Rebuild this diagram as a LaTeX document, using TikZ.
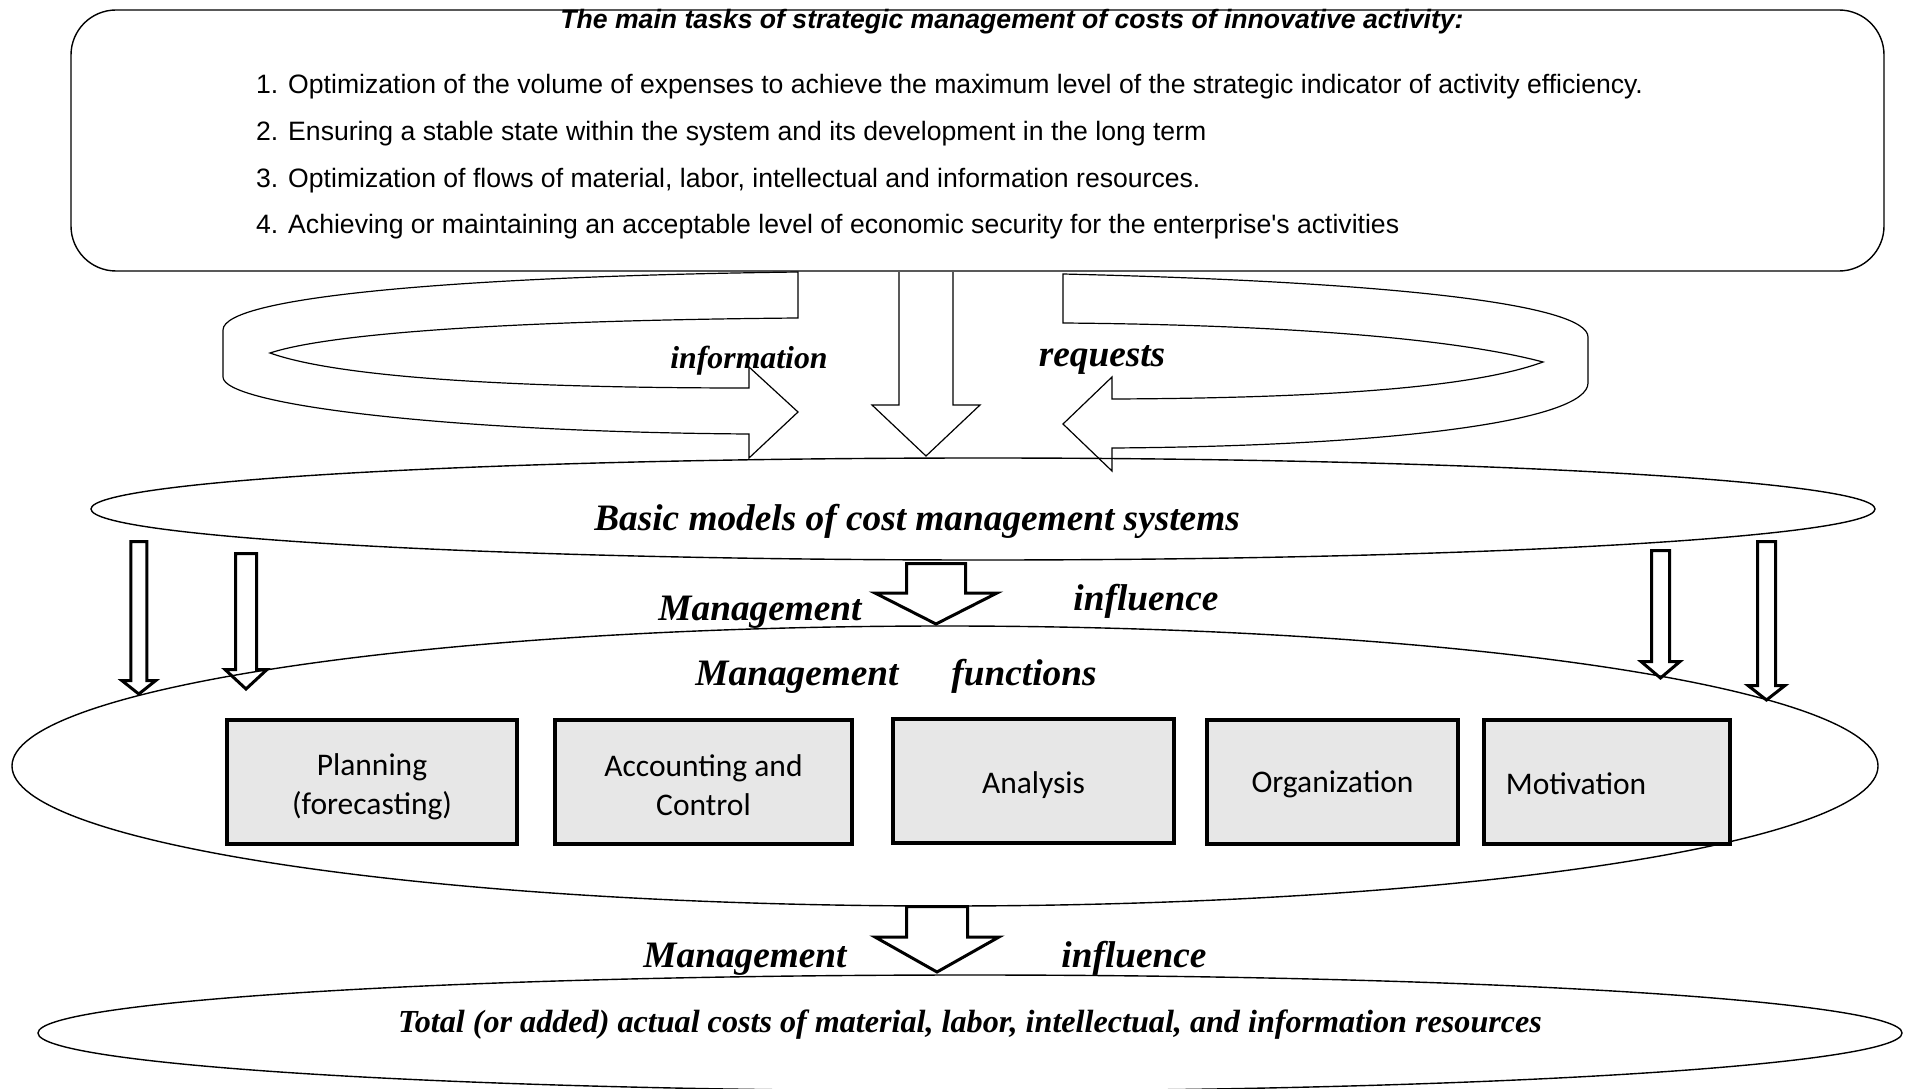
\documentclass[tikz,border=0pt]{standalone}
\usepackage{fontspec}
\setmainfont{Liberation Serif}
\newfontfamily\sansarial[Ligatures=TeXOff]{Liberation Sans}
\newfontfamily\boxfont{Carlito}
\usetikzlibrary{shapes.geometric}
\definecolor{boxgray}{RGB}{231,231,231}
\newcommand\lowered[2]{\raisebox{-#1}[\height][\depth]{#2}}
\begin{document}
\begin{tikzpicture}[x=1pt,y=-1pt,
  outline/.style={draw=black,line width=1.4pt},
  ribbon/.style={draw=black,line width=1.2pt,line join=miter},
  fatarrow/.style={draw=black,line width=3pt,line join=miter},
  oval/.style={ellipse,draw=black,line width=1.4pt,inner sep=0pt},
  funcbox/.style={draw=black,line width=4pt,fill=boxgray,inner sep=0pt,
    minimum height=124pt,align=center,font=\boxfont\fontsize{31.5}{39}\selectfont},
  tasktext/.style={anchor=base west,inner sep=0pt,font=\sansarial\fontsize{26.6}{30}\selectfont},
  bigitalic/.style={anchor=base,inner sep=0pt,font=\bfseries\itshape\fontsize{37.3}{40}\selectfont},
  miditalic/.style={anchor=base,inner sep=0pt,font=\bfseries\itshape\fontsize{31.8}{36}\selectfont},
]
\useasboundingbox (0,0) rectangle (1912,1089);

% ---- tasks box ----
\node[outline,rounded corners=45pt,minimum width=1813pt,minimum height=261pt,inner sep=0pt]
  (tasks) at (977.5,140.5) {};
\node[anchor=base,inner sep=0pt,font=\sansarial\bfseries\itshape\fontsize{26.6}{30}\selectfont]
  (title) at (1012,29) {The main tasks of strategic management of costs of innovative activity:};
\node[tasktext] (t1) at (256,94) {1. Optimization of the volume of expenses to achieve the maximum level of the strategic indicator of activity efficiency.};
\node[tasktext] (t2) at (256,140.5) {2. Ensuring a stable state within the system and its development in the long term};
\node[tasktext] (t3) at (256,187) {3. Optimization of flows of material, labor, intellectual and information resources.};
\node[tasktext] (t4) at (256,233.5) {4. Achieving or maintaining an acceptable level of economic security for the enterprise's activities};

% ---- circular ribbon arrows ----
\draw[ribbon] (798,272) .. controls (480,276) and (223,295) .. (223,330)
  -- (223,377)
  .. controls (223,405) and (450,432) .. (749,434)
  -- (749,458) -- (798,412) -- (749,367) -- (749,388)
  .. controls (520,388) and (340,378) .. (270,353)
  .. controls (340,330) and (560,320) .. (798,318)
  -- cycle;
\draw[ribbon] (1063,274) .. controls (1400,282) and (1588,305) .. (1588,337)
  -- (1588,383)
  .. controls (1588,420) and (1400,446) .. (1112,448)
  -- (1112,471) -- (1063,424) -- (1112,377) -- (1112,399)
  .. controls (1350,398) and (1480,385) .. (1543,362)
  .. controls (1460,340) and (1300,325) .. (1063,323)
  -- cycle;
\draw[ribbon] (899,272) -- (899,405) -- (872,405) -- (926,456) -- (980,405) -- (953,405) -- (953,272);

\node[miditalic] (information) at (749,368.5) {information};
\node[bigitalic] (requests) at (1102,366) {requests};

% ---- basic models ----
\node[oval,minimum width=1784pt,minimum height=102pt] (basic) at (983,509) {};
\node[bigitalic] (basictext) at (917,530) {Basic models of cost management systems};

% ---- management influence (upper) ----
\draw[fatarrow] (906.5,563.5) -- (965.5,563.5) -- (965.5,593) -- (997,593) -- (936,624)
  -- (875,593) -- (906.5,593) -- cycle;
\node[bigitalic] (mgmt1) at (760,620) {Management};
\node[bigitalic] (infl1) at (1146,610) {influence};

% ---- management functions ----
\node[oval,minimum width=1866pt,minimum height=280pt] (functions) at (945,766) {};
\node[bigitalic] (mgmtf) at (797,685) {Management};
\node[bigitalic] (funcs) at (1024,685) {functions};

% side arrows
\draw[fatarrow] (130.8,541.5) -- (146.8,541.5) -- (146.8,680.5) -- (155.8,680.5) -- (138.8,694)
  -- (121.8,680.5) -- (130.8,680.5) -- cycle;
\draw[fatarrow] (235.5,553.5) -- (256.5,553.5) -- (256.5,669.5) -- (267,669.5) -- (246,689)
  -- (225,669.5) -- (235.5,669.5) -- cycle;
\draw[fatarrow] (1651.5,550.5) -- (1669.5,550.5) -- (1669.5,661.5) -- (1680,661.5) -- (1660.5,678)
  -- (1641,661.5) -- (1651.5,661.5) -- cycle;
\draw[fatarrow] (1757.5,541.5) -- (1775.5,541.5) -- (1775.5,685.5) -- (1785,685.5) -- (1766.5,700)
  -- (1748,685.5) -- (1757.5,685.5) -- cycle;

\node[funcbox,minimum width=290pt] (planning) at (372,782) {\lowered{5pt}{\parbox{280pt}{\centering Planning\\(forecasting)}}};
\node[funcbox,minimum width=297pt] (accounting) at (703.5,782) {\lowered{3pt}{\parbox{290pt}{\centering Accounting and\\Control}}};
\node[funcbox,minimum width=281pt] (analysis) at (1033.5,781) {\lowered{4pt}{Analysis}};
\node[funcbox,minimum width=251pt] (organization) at (1332.5,782) {\lowered{2.5pt}{Organization}};
\node[funcbox,minimum width=246pt] (motivation) at (1607,782) {\lowered{1.5pt}{\hspace*{-62pt}Motivation}};

% ---- management influence (lower) ----
\draw[fatarrow] (906.5,906.5) -- (967.5,906.5) -- (967.5,937) -- (999,937) -- (937,972)
  -- (875,937) -- (906.5,937) -- cycle;
\node[bigitalic] (mgmt2) at (745,967) {Management};
\node[bigitalic] (infl2) at (1134,967) {influence};

% ---- total costs ----
\node[oval,minimum width=1864pt,minimum height=116pt] (total) at (970,1033) {};
\node[anchor=base,inner sep=0pt,font=\bfseries\itshape\fontsize{32.15}{36}\selectfont]
  (totaltext) at (970,1032) {Total (or added) actual costs of material, labor, intellectual, and information resources};
\end{tikzpicture}
\end{document}
